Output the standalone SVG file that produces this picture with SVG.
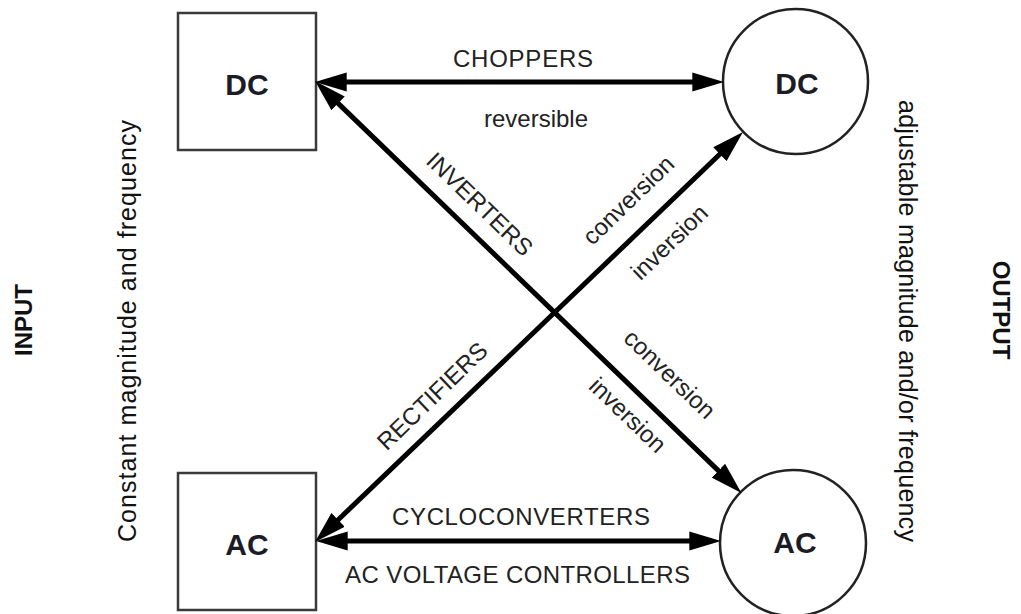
<svg xmlns="http://www.w3.org/2000/svg" width="1021" height="614" viewBox="0 0 1021 614">
<style>
.box{fill:#fff;stroke:#3a3a3a;stroke-width:2.5}
.circ{fill:#fff;stroke:#222;stroke-width:2.5}
.node{font-family:"Liberation Sans",Arial,sans-serif;font-weight:bold;font-size:30px;fill:#1c1c26;text-anchor:middle}
.lbl{font-family:"Liberation Sans",Arial,sans-serif;font-size:24px;fill:#222;text-anchor:middle}
.side{font-family:"Liberation Sans",Arial,sans-serif;font-size:25px;fill:#111;text-anchor:middle}
.head{font-family:"Liberation Sans",Arial,sans-serif;font-size:24px;font-weight:bold;fill:#111;text-anchor:middle}
.arr{stroke:#000;stroke-width:5;fill:none;marker-start:url(#ah);marker-end:url(#ah)}
</style>
<defs>
<marker id="ah" markerUnits="userSpaceOnUse" markerWidth="32" markerHeight="20" viewBox="0 0 30 18" refX="10" refY="9" orient="auto-start-reverse">
<path d="M0,0 L30,9 L0,18 z" fill="#000"/>
</marker>
</defs>
<rect width="1021" height="614" fill="#fff"/>
<g id="dc-in">
<rect class="box" x="178" y="13" width="138" height="137"/>
<text class="node" x="247" y="95">DC</text>
</g>
<g id="ac-in">
<rect class="box" x="178" y="473" width="138" height="137"/>
<text class="node" x="247" y="555">AC</text>
</g>
<g id="dc-out">
<circle class="circ" cx="795.5" cy="81.5" r="72.5"/>
<text class="node" x="797" y="94">DC</text>
</g>
<g id="ac-out">
<circle class="circ" cx="793" cy="543" r="73"/>
<text class="node" x="795" y="553">AC</text>
</g>
<g id="connectors">
<line class="arr" x1="336" y1="82" x2="703" y2="82"/>
<line class="arr" x1="337" y1="541" x2="700" y2="541"/>
<line class="arr" x1="330.4" y1="95.9" x2="726.1" y2="478.1"/>
<line class="arr" x1="330.4" y1="527.2" x2="727.6" y2="146.8"/>
</g>
<g id="labels">
<text class="lbl" x="523" y="67" textLength="140">CHOPPERS</text>
<text class="lbl" x="536" y="127" fill="#000">reversible</text>
<text class="lbl" x="521" y="525" textLength="258">CYCLOCONVERTERS</text>
<text class="lbl" x="517.5" y="583" textLength="345">AC VOLTAGE CONTROLLERS</text>
<text class="lbl" transform="translate(474,210) rotate(44)" fill="#333">INVERTERS</text>
<text class="lbl" transform="translate(634,206) rotate(-44)">conversion</text>
<text class="lbl" transform="translate(675,248) rotate(-44)">inversion</text>
<text class="lbl" transform="translate(438,402) rotate(-44)" fill="#333">RECTIFIERS</text>
<text class="lbl" transform="translate(664,380) rotate(44)">conversion</text>
<text class="lbl" transform="translate(622,421) rotate(44)">inversion</text>
<text class="side" transform="translate(136,331) rotate(-90)" textLength="422">Constant magnitude and frequency</text>
<text class="side" transform="translate(899,321) rotate(90)" textLength="442">adjustable magnitude and/or frequency</text>
<text class="head" transform="translate(32,320) rotate(-90)">INPUT</text>
<text class="head" transform="translate(993,310) rotate(90)" font-size="20">OUTPUT</text>
</g>
</svg>
